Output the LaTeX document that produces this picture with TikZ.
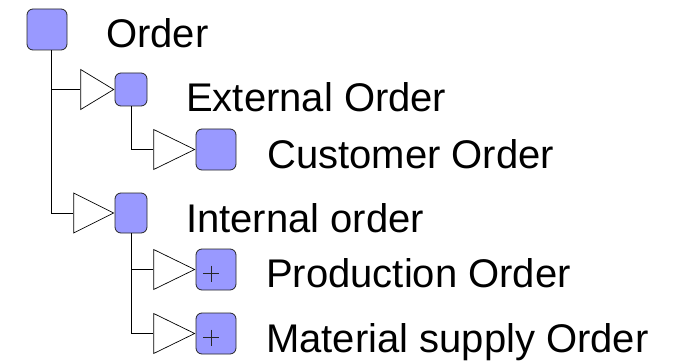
\documentclass[tikz,border=0pt]{standalone}
\usepackage{fontspec}
\setmainfont{Liberation Sans}
\usepackage{tikz}
\usetikzlibrary{shapes.geometric}

\definecolor{classfill}{RGB}{153,153,255}

\begin{document}
\begin{tikzpicture}[x=1pt, y=-1pt,
    cls/.style={rectangle, draw=black!85, fill=classfill, rounded corners=6pt,
                line width=0.8pt, inner sep=0pt},
    pkg/.style={cls, path picture={
        \draw[line width=0.8pt] ([xshift=-13pt,yshift=-4pt]path picture bounding box.center) -- ++(16pt,0);
        \draw[line width=0.8pt] ([xshift=-5pt,yshift=4pt]path picture bounding box.center) -- ++(0,-16pt);}},
    gen/.style={isosceles triangle, isosceles triangle stretches, draw, fill=white,
                line width=0.7pt, inner sep=0pt, minimum width=40pt, anchor=apex},
    lbl/.style={anchor=base west, inner sep=0pt,
                font=\fontsize{40}{44}\selectfont},
    tree/.style={line width=0.8pt}
]
\useasboundingbox (0,0) rectangle (673,361);

% classes
\node[cls, minimum width=40pt, minimum height=41pt] (order)      at (47,29.5)  {};
\node[cls, minimum width=32pt, minimum height=33pt] (external)   at (131,89.5) {};
\node[cls, minimum width=40pt, minimum height=41pt] (customer)   at (216,149.5) {};
\node[cls, minimum width=32pt, minimum height=40pt] (internal)   at (131,213)  {};
\node[pkg, minimum width=40pt, minimum height=41pt] (production) at (216,269.5) {};
\node[pkg, minimum width=40pt, minimum height=41pt] (material)   at (216,333.5) {};

% labels
\node[lbl] (lOrder)      at (106,47.5) {Order};
\node[lbl] (lExternal)   at (186,112)  {External Order};
\node[lbl] (lCustomer)   at (267,168)  {Customer Order};
\node[lbl] (lInternal)   at (186,232)  {Internal order};
\node[lbl] (lProduction) at (266,287.5) {Production Order};
\node[lbl] (lMaterial)   at (266,352)  {Material supply Order};

% generalization heads
\node[gen, minimum height=33pt] (tExternal)   at (external.west)   {};
\node[gen, minimum height=41pt] (tCustomer)   at (customer.west)   {};
\node[gen, minimum height=40pt] (tInternal)   at (internal.west)   {};
\node[gen, minimum height=41pt] (tProduction) at (production.west) {};
\node[gen, minimum height=41pt] (tMaterial)   at (material.west)   {};

% inheritance lines
\draw[tree] ([xshift=4pt]order.south) |- (tExternal.west);
\draw[tree] ([xshift=4pt]order.south) |- (tInternal.west);
\draw[tree] (external.south) |- (tCustomer.west);
\draw[tree] (internal.south) |- (tProduction.west);
\draw[tree] (internal.south) |- (tMaterial.west);
\end{tikzpicture}
\end{document}
